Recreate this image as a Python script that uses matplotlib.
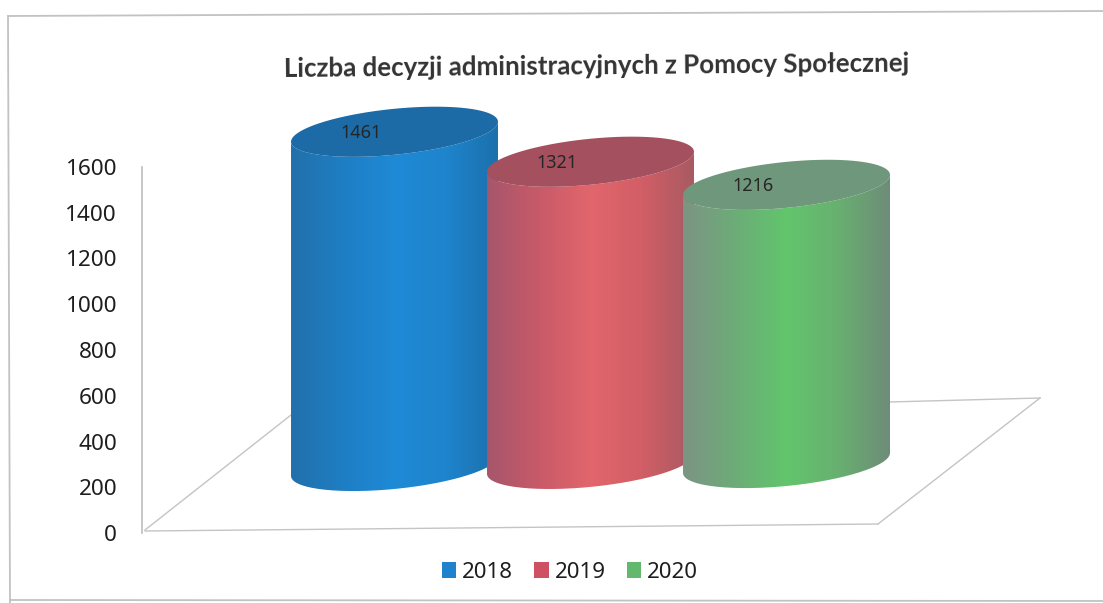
#!/usr/bin/env python
import numpy as np
import matplotlib
matplotlib.use("Agg")
import matplotlib.pyplot as plt
from matplotlib.colors import LinearSegmentedColormap
from matplotlib.lines import Line2D
from matplotlib.patches import Patch, PathPatch, Polygon
from matplotlib.path import Path

plt.rcParams['font.family'] = ['Noto Sans', 'DejaVu Sans']

title = "Liczba decyzji administracyjnych z Pomocy Społecznej"
years = ["2018", "2019", "2020"]
values = [1461, 1321, 1216]
y_ticks = [0, 200, 400, 600, 800, 1000, 1200, 1400, 1600]

# shading across each cylinder, left edge to right edge
body_colors = [
    ["#2270aa", "#1e7ec4", "#1f8ad6", "#1e84cc", "#1c70ac"],
    ["#a6566c", "#c85a68", "#e2666c", "#d25e66", "#a85a62"],
    ["#7d9484", "#6cac78", "#62c56c", "#68b070", "#6e8c78"],
]
top_colors = ["#1c6ba6", "#a4505f", "#6f977b"]
legend_colors = ["#1f82cc", "#cf5062", "#62b86c"]

W, H = 1103, 603
fig = plt.figure(figsize=(W / 100, H / 100), dpi=100)

# plot area in pixels, the y axis is a real 0-1600 scale
left, right, bottom, top = 142, 880, 533, 167
ax = fig.add_axes([left / W, 1 - bottom / H, (right - left) / W, (bottom - top) / H])
px_per_x = 196.0
x0_px = 394.5
ax.set_xlim((left - x0_px) / px_per_x, (right - x0_px) / px_per_x)
ax.set_ylim(0, 1600)
px_per_y = (bottom - top) / 1600


def fx(px):
    return (px - x0_px) / px_per_x


def fy(py):
    return (bottom - py) / px_per_y


for s in ["top", "right", "bottom"]:
    ax.spines[s].set_visible(False)
ax.spines["left"].set_color("#bdbdbd")
ax.spines["left"].set_linewidth(1.2)
ax.set_xticks([])
ax.set_yticks(y_ticks)
ax.tick_params(axis="y", length=0, labelsize=16.2, labelcolor="#1e1e1e")

# floor of the 3d box
floor = [(145, 530), (291, 415), (889, 402), (1040, 398), (878, 524), (145, 531)]
for a, b in zip(floor[:-1], floor[1:]):
    if a[0] == 291:
        continue
    ax.plot([fx(a[0]), fx(b[0])], [fy(a[1]), fy(b[1])], color="#c4c4c4", lw=1.0,
            clip_on=False, zorder=1)

half_w = 0.528
semi_minor = 23 / px_per_y
shear = 10 / px_per_y
# height of the base centre above the front of the floor
base_lift = [293, 302, 306]

t = np.linspace(0, 2 * np.pi, 200)
for i, (val, lift) in enumerate(zip(values, base_lift)):
    z = 2 + i
    # sheared ellipse, the scan shows the discs leaning up to the right
    ex = i + half_w * np.cos(t)
    ey = semi_minor * np.sin(t) + shear * np.cos(t)
    lower = np.sin(t) <= 0
    order = np.argsort(ex[lower])
    bx, by = ex[lower][order], ey[lower][order] + lift
    ux, uy = bx[::-1], by[::-1] + val
    verts = np.column_stack([np.r_[bx, ux], np.r_[by, uy]])
    verts = np.vstack([verts, verts[0]])
    body = PathPatch(Path(verts), fc="none", ec="none", transform=ax.transData)
    body.set_clip_on(False)
    ax.add_patch(body)

    cmap = LinearSegmentedColormap.from_list(f"c{i}", body_colors[i])
    grad = np.linspace(0, 1, 256).reshape(1, -1)
    im = ax.imshow(grad, cmap=cmap, aspect="auto", zorder=z,
                   extent=[i - half_w, i + half_w, lift - 200, lift + val + 200])
    im.set_clip_box(fig.bbox)
    im.set_clip_path(body)

    ax.add_patch(Polygon(np.column_stack([ex, ey + lift + val]), closed=True,
                         fc=top_colors[i], ec="none", zorder=z + 0.1, clip_on=False))
    ax.text(i - 0.17, lift + val - 5, str(val), fontsize=13, color="#262626",
            ha="center", va="center", zorder=z + 0.2, clip_on=False)

ax.set_xlim((left - x0_px) / px_per_x, (right - x0_px) / px_per_x)
ax.set_ylim(0, 1600)
ax.patch.set_visible(False)
ax.tick_params(axis="y", pad=18)

fig.text(596.5 / W, 1 - 66 / H, title, fontsize=18.6, fontweight="bold", color="#333333",
         family=['Lato', 'DejaVu Sans'], ha="center", va="center", rotation=0.5,
         rotation_mode="anchor")

handles = [Patch(fc=c, ec="none", label=y) for c, y in zip(legend_colors, years)]
fig.legend(handles=handles, loc="center", bbox_to_anchor=(570 / W, 1 - 572 / H), ncol=3,
           frameon=False, fontsize=16, labelcolor="#1e1e1e", handlelength=0.65,
           handleheight=0.75, handletextpad=0.27, columnspacing=0.95)

# outer chart frame
for xs, ys in [([8, 1103], [16, 11]), ([8, 10], [16, 603]), ([10, 1103], [600, 601])]:
    fig.add_artist(Line2D([x / W for x in xs], [1 - y / H for y in ys], color="#c2c2c2", lw=1.3))

fig.savefig("out.png", dpi=100)
